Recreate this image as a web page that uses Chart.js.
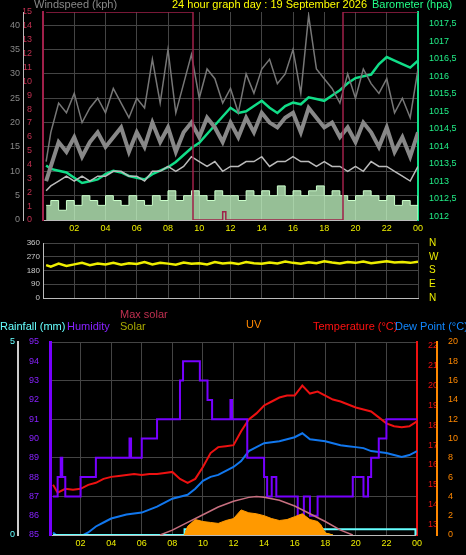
<!DOCTYPE html>
<html><head>
<script src="https://cdn.jsdelivr.net/npm/chart.js@4"></script>
<style>
body{margin:0;background:#000;width:466px;height:555px;overflow:hidden;font-family:"Liberation Sans",Arial,sans-serif}
canvas{position:absolute;left:0}
.t{position:absolute;font-size:11px;white-space:nowrap}
</style></head><body>
<canvas id="top" width="466" height="240" style="top:0"></canvas>
<canvas id="mid" width="466" height="80" style="top:232px"></canvas>
<canvas id="bot" width="466" height="225" style="top:330px"></canvas>
<div class="t" style="left:34px;top:-2px;color:#888">Windspeed (kph)</div>
<div class="t" style="left:172px;top:-2px;color:#ff0">24 hour graph day : 19 September 2026</div>
<div class="t" style="left:372px;top:-2px;color:#2f8">Barometer (hpa)</div>
<div class="t" style="left:0;top:320px;color:#6ff">Rainfall (mm)</div>
<div class="t" style="left:67px;top:320px;color:#82f">Humidity</div>
<div class="t" style="left:120px;top:308px;color:#c03050">Max solar</div>
<div class="t" style="left:120px;top:320px;color:#aa0">Solar</div>
<div class="t" style="left:246px;top:318px;color:#f80">UV</div>
<div class="t" style="left:313px;top:320px;color:#f11">Temperature (°C)</div>
<div class="t" style="left:395px;top:320px;color:#18f">Dew Point (°C)</div>
<script>
// time axis (hours)
const hours = [0.2,0.5,1,1.5,2,2.5,3,3.5,4,4.5,5,5.5,6,6.5,7,7.5,8,8.5,9,9.5,10,10.5,11,11.5,12,12.5,13,13.5,14,14.5,15,15.5,16,16.5,17,17.5,18,18.5,19,19.5,20,20.5,21,21.5,22,22.5,23,23.5,24];
const hourTicks = ['02','04','06','08','10','12','14','16','18','20','22','00'];
// wind (kph)
const gust = [12,18,24,22,26,20,23,25,22,27,24,21,25,23,33,24,35,22,28,34,25,31,29,24,27,22,30,26,31,33,28,30,35,26,42,31,29,27,24,30,25,31,28,26,29,22,25,21,31];
const speed = [8,11,16,14,17,13,16,18,15,17,19,14,18,15,20,16,19,14,18,20,17,21,19,16,20,17,21,18,22,20,19,21,22,18,23,21,19,20,17,19,16,20,18,15,19,14,17,13,18];
const avgWind = [6,7,8,9,8,9,8,9,9,10,10,9,9,8,10,10,11,10,11,13,12,11,12,10,11,11,12,12,13,11,12,12,13,12,12,11,12,11,11,10,11,10,12,11,11,10,9,8,11];
const windBar = [3,4,2,4,3,5,4,3,5,4,3,5,4,3,5,4,6,4,5,6,5,4,6,5,5,4,6,5,6,5,7,5,6,5,6,7,5,6,5,4,5,6,5,4,5,3,4,3,5];
const sunTimes = [0.2,9.6,9.6,11.5,11.5,11.7,11.7,19.2,19.2,24];
const sunVals = [15,15,0,0,0.6,0.6,0,0,15,15];
const baro = [1013.45,1013.35,1013.3,1013.25,1013.1,1012.95,1013.0,1013.05,1013.2,1013.3,1013.25,1013.15,1013.1,1013.05,1013.2,1013.3,1013.4,1013.55,1013.75,1013.95,1014.1,1014.35,1014.6,1014.85,1015.1,1014.95,1015.0,1015.15,1015.3,1015.1,1014.95,1015.15,1015.25,1015.2,1015.4,1015.35,1015.3,1015.45,1015.6,1015.8,1015.95,1016.0,1016.05,1016.35,1016.55,1016.45,1016.35,1016.25,1016.45];
// wind direction (deg)
const windDir = [215,205,225,210,220,230,215,225,220,230,218,228,222,235,220,230,225,218,232,224,228,220,235,226,230,222,236,228,224,232,226,238,230,225,234,228,240,232,226,236,230,238,228,234,240,232,236,230,238];
const compass = ['N', 'E', 'S', 'W', 'N'];
// humidity steps
const humTimes = [0.2,0.5,0.7,0.8,1.0,1.3,2.0,3.0,5.2,5.3,6.0,7.0,8.5,8.7,9.8,10.3,10.6,11.8,11.9,12.0,12.9,13.0,14.0,14.2,14.5,14.8,15.0,16.0,16.2,16.6,17.0,17.5,18.0,19.8,20.5,20.8,21.0,21.5,22.0,24.0];
const humVals = [87,88,89,88,87,87,88,89,90,89,90,91,93,94,93,92,91,92,91,91,89,89,88,87,88,87,87,87,86,87,86,87,87,88,87,88,89,90,91,91];
const temp = [15.0,14.6,14.8,14.75,14.8,15.0,15.1,15.3,15.4,15.45,15.5,15.55,15.5,15.55,15.55,15.6,15.65,15.3,15.1,15.3,15.9,16.6,16.9,16.95,17.0,17.7,18.3,18.6,19.0,19.2,19.4,19.5,19.5,20.0,19.6,19.7,19.5,19.3,19.2,19.05,18.9,18.8,18.7,18.4,18.1,17.95,17.9,17.95,18.2];
const dew = [12.6,12.4,12.35,12.4,12.4,12.6,12.9,13.1,13.3,13.4,13.5,13.55,13.6,13.75,13.9,14.1,14.3,14.4,14.5,14.8,15.2,15.4,15.5,15.7,15.9,16.2,16.7,16.9,17.1,17.15,17.2,17.3,17.4,17.6,17.3,17.25,17.2,17.1,17.0,16.95,16.9,16.85,16.7,16.65,16.6,16.5,16.4,16.5,16.7];
const rainTimes = [0.2,8.8,8.8,23.9,23.9];
const rainVals = [0,0,0.15,0.15,0];
const maxSolarTimes = [7.2,8,9,10,11,12,13,13.5,14,15,16,17,18,19,19.8];
const maxSolar = [0,0.5,1.3,2.1,2.9,3.5,3.9,4.0,3.9,3.6,3.0,2.2,1.4,0.5,0];
const solarTimes = [8.8,9,9.5,10,10.5,11,11.5,12,12.5,13,13.5,14,14.5,15,15.5,16,16.5,17,17.5,17.7,18,18.5];
const solar = [0,0.8,1.5,1.3,1.2,1.1,1.3,1.4,2.3,2.0,1.9,1.8,1.5,1.3,1.4,1.6,2.0,1.4,1.2,1.0,0.2,0];
const uv = [0,0.9,1.6,1.4,1.3,1.2,1.5,1.7,2.6,2.3,2.2,2.0,1.7,1.5,1.6,1.9,2.2,1.6,1.4,1.1,0.2,0];

const pts = (xs, ys) => xs.map((x, i) => ({x, y: ys[i]}));
const font = {family: 'Liberation Sans', size: 9};
const grid = {color: '#444', borderDash: [1, 3], drawTicks: false};
const fixW = w => function (s) { s.width = w; };
// keep only ticks on the step grid (drop the odd min/max ticks)
const steps = (start, step, end) => s => {
  const t = [];
  for (let v = start; v <= end + 1e-9; v += step) t.push({value: Math.round(v * 100) / 100});
  s.ticks = t;
};
const xAxis = (show) => ({
  type: 'linear', min: 0, max: 24, grid: {...grid, drawOnChartArea: true},
  border: {color: '#bbb'},
  afterBuildTicks: steps(2, 2, 24),
  ticks: {display: show, color: '#ee0', font, autoSkip: false, callback: (v) => hourTicks[v / 2 - 1]},
  afterFit: s => { s.height = show ? 20 : 2; }
});
const line = (data, color, w, extra) => Object.assign({type: 'line', data, borderColor: color, borderWidth: w, pointRadius: 0}, extra || {});
const base = {animation: false, responsive: false, plugins: {legend: {display: false}, tooltip: {enabled: false}}};

new Chart(document.getElementById('top'), {
  data: {datasets: [
    line(pts(sunTimes, sunVals), '#a0204a', 1.5, {yAxisID: 'sun'}),
    line(pts(hours, windBar), '#cfc', 1, {yAxisID: 'wind', stepped: true, fill: 'origin', backgroundColor: 'rgba(200,255,200,0.75)'}),
    line(pts(hours, gust), '#777', 1.5, {yAxisID: 'wind'}),
    line(pts(hours, speed), '#888', 4, {yAxisID: 'wind'}),
    line(pts(hours, avgWind), '#bbb', 1.5, {yAxisID: 'wind'}),
    line(pts(hours, baro), '#1d8', 2.5, {yAxisID: 'baro'})
  ]},
  options: {...base, layout: {padding: {top: 12}},
    scales: {
      x: xAxis(true),
      sun: {position: 'left', min: 0, max: 15, grid: {display: false}, border: {color: '#a0204a', width: 2},
        afterBuildTicks: steps(0, 1, 15), ticks: {color: '#c03050', font, autoSkip: false}, afterFit: fixW(20)},
      wind: {position: 'left', min: 0, max: 42.7, grid, border: {color: '#bbb'},
        afterBuildTicks: steps(0, 5, 40), ticks: {color: '#888', font, autoSkip: false}, afterFit: fixW(23)},
      baro: {position: 'right', min: 1011.89, max: 1017.84, grid: {display: false}, border: {color: '#1d8', width: 2},
        afterBuildTicks: steps(1012, 0.5, 1017.5),
        ticks: {color: '#2e8', font, autoSkip: false, callback: v => String(v).replace('.', ',')}, afterFit: fixW(48)}
    }}
});

new Chart(document.getElementById('mid'), {
  data: {datasets: [line(pts(hours, windDir), '#ee0', 2.5, {yAxisID: 'dir'}), line([], '#000', 0, {yAxisID: 'card'})]},
  options: {...base, layout: {padding: {top: 11, bottom: 12}},
    scales: {
      x: xAxis(false),
      dir: {position: 'left', min: 0, max: 360, grid, border: {color: '#bbb'},
        afterBuildTicks: steps(0, 90, 360), ticks: {color: '#ccc', font: {...font, size: 8}, autoSkip: false}, afterFit: fixW(43)},
      card: {position: 'right', min: 0, max: 360, grid: {display: false}, border: {display: false},
        afterBuildTicks: steps(0, 90, 360),
        ticks: {color: '#ee0', font: {...font, size: 10}, autoSkip: false, callback: v => compass[v / 90]},
        afterFit: fixW(48)}
    }}
});

new Chart(document.getElementById('bot'), {
  data: {datasets: [
    line(pts(maxSolarTimes, maxSolar), '#c87080', 1.5, {yAxisID: 'uv'}),
    line(pts(solarTimes, uv), '#f90', 1, {yAxisID: 'uv', fill: 'origin', backgroundColor: '#f90'}),
    line(pts(solarTimes, solar), '#ff0', 1, {yAxisID: 'uv', fill: 'origin', backgroundColor: '#ff3'}),
    line(pts(rainTimes, rainVals), '#6ff', 2, {yAxisID: 'rain'}),
    line(pts(humTimes, humVals), '#70f', 2, {yAxisID: 'hum', stepped: true}),
    line(pts(hours, temp), '#e11', 2, {yAxisID: 'temp'}),
    line(pts(hours, dew), '#17e', 2, {yAxisID: 'temp'})
  ]},
  options: {...base, layout: {padding: {top: 12}},
    scales: {
      x: xAxis(true),
      hum: {position: 'left', min: 85, max: 95, grid: {display: false}, border: {color: '#70f', width: 3},
        afterBuildTicks: steps(85, 1, 95), ticks: {color: '#82f', font, autoSkip: false}, afterFit: fixW(32)},
      rain: {position: 'left', min: 0, max: 5, grid, border: {color: '#ccc', width: 2},
        afterBuildTicks: steps(0, 1, 5),
        ticks: {color: '#6ff', font, autoSkip: false, callback: v => (v === 0 || v === 5) ? v : ''}, afterFit: fixW(18)},
      temp: {position: 'right', min: 12.47, max: 22.2, grid: {display: false}, border: {color: '#e11', width: 2},
        afterBuildTicks: steps(13, 1, 22), ticks: {color: '#e11', font, autoSkip: false}, afterFit: fixW(20)},
      uv: {position: 'right', min: 0, max: 20, grid: {display: false}, border: {color: '#f80', width: 2},
        afterBuildTicks: steps(0, 2, 20), ticks: {color: '#f80', font, autoSkip: false}, afterFit: fixW(29)}
    }}
});
</script>
</body></html>
